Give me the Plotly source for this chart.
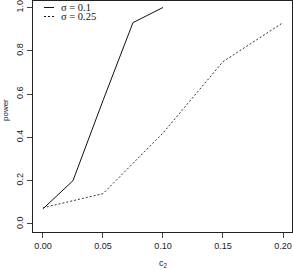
import plotly.graph_objects as go

c2_a = [0.0, 0.025, 0.05, 0.075, 0.1]
power_a = [0.07, 0.20, 0.57, 0.93, 1.0]
c2_b = [0.0, 0.05, 0.1, 0.15, 0.2]
power_b = [0.075, 0.14, 0.42, 0.75, 0.93]
names = ["σ = 0.1", "σ = 0.25"]
x_ticks = [0.0, 0.05, 0.1, 0.15, 0.2]
x_labels = ["0.00", "0.05", "0.10", "0.15", "0.20"]
y_ticks = [0.0, 0.2, 0.4, 0.6, 0.8, 1.0]
y_labels = ["0.0", "0.2", "0.4", "0.6", "0.8", "1.0"]

W, H = 293, 270
L, R, T, B = 33, 1, 1, 38
pw, ph = W - L - R, H - T - B

fig = go.Figure()
fig.add_trace(go.Scatter(x=c2_a, y=power_a, mode="lines", name=names[0],
                         line=dict(color="#111", width=1), showlegend=False))
fig.add_trace(go.Scatter(x=c2_b, y=power_b, mode="lines", name=names[1],
                         line=dict(color="#333", width=1, dash="2px,2px"), showlegend=False))

axfont = dict(family="Liberation Sans, Arial, sans-serif", size=9, color="#222")
fig.update_xaxes(range=[-0.0083, 0.2075], tickvals=x_ticks, ticktext=x_labels,
                 ticks="outside", ticklen=5, tickcolor="#444", tickwidth=1,
                 showline=True, mirror=True, linecolor="#222", linewidth=1,
                 showgrid=False, zeroline=False, tickfont=axfont, automargin=False,
                 ticklabeloverflow="allow")
fig.update_yaxes(range=[-0.037, 1.03], tickvals=y_ticks, ticktext=y_labels,
                 ticks="outside", ticklen=5, tickcolor="#444", tickwidth=1,
                 tickangle=-90,
                 showline=True, mirror=True, linecolor="#222", linewidth=1,
                 showgrid=False, zeroline=False, tickfont=axfont, automargin=False,
                 ticklabeloverflow="allow")

def px_x(p):
    return (p - L) / pw

def px_y(p):
    return (H - B - p) / ph

annotations = [
    dict(text="c<sub>2</sub>", x=px_x(163), y=px_y(263), xref="paper", yref="paper",
         showarrow=False, font=axfont, xanchor="center", yanchor="middle"),
    dict(text="power", x=px_x(5), y=px_y(110), xref="paper", yref="paper",
         showarrow=False, font=dict(family="Liberation Sans, Arial, sans-serif", size=8, color="#222"),
         textangle=-90, xanchor="center", yanchor="middle"),
]
shapes = []
leg_rows = [7.5, 16.5]
dashes = ["solid", "2px,2px"]
for name, ry, d in zip(names, leg_rows, dashes):
    shapes.append(dict(type="line", xref="paper", yref="paper",
                       x0=px_x(44), x1=px_x(54), y0=px_y(ry), y1=px_y(ry),
                       line=dict(color="#111", width=1, dash=d)))
    annotations.append(dict(text=name, x=px_x(59), y=px_y(ry), xref="paper", yref="paper",
                            showarrow=False, xanchor="left", yanchor="middle",
                            font=dict(family="Liberation Serif, Times New Roman, serif",
                                      size=10.5, color="#111")))

fig.update_layout(width=W, height=H, margin=dict(l=L, r=R, t=T, b=B, autoexpand=False),
                  paper_bgcolor="white", plot_bgcolor="white", hovermode=False,
                  annotations=annotations, shapes=shapes)
fig.write_html("out.html", config={"displayModeBar": False, "staticPlot": True},
               post_script="document.body.style.margin='0';document.body.style.overflow='hidden';")
